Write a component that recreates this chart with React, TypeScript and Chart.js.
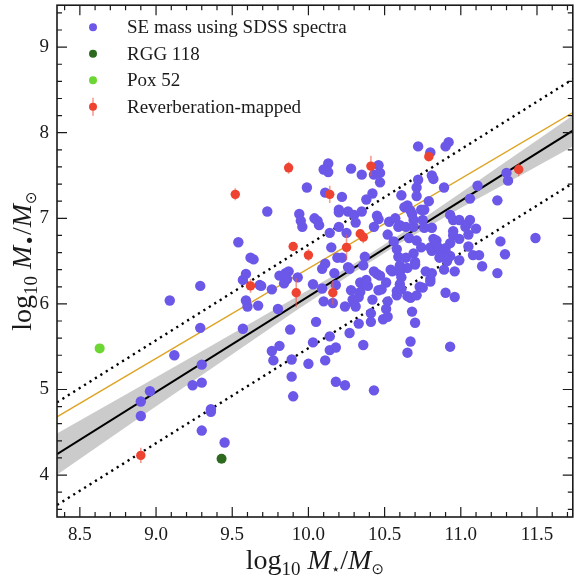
import React, { useEffect, useRef } from 'react';
import { Chart, registerables } from 'chart.js';

Chart.register(...registerables);

// ---------- data ----------
const seMassX = [
  9.09, 9.29, 9.12, 9.29, 9.30, 9.24, 9.30, 8.96, 8.90, 8.90, 9.36, 9.36, 9.30, 9.45,
  9.57, 9.59, 9.60, 9.67, 9.57, 9.59, 9.62, 9.64, 9.68, 9.69, 9.76, 9.81, 9.85, 9.87,
  9.86, 9.84, 9.93, 9.80, 9.88, 9.81, 9.76, 9.77, 9.89, 9.89, 9.90, 10.00, 9.54, 9.73,
  10.03, 10.09, 10.11, 10.09, 10.17, 10.10, 10.16, 10.05, 10.03, 10.14, 10.14, 10.18,
  10.11, 10.18, 10.24, 10.43, 10.27, 10.33, 10.36, 10.24, 10.29, 10.30, 10.31, 10.28,
  10.34, 10.36, 10.39, 10.38, 10.34, 10.33, 10.42, 10.43, 10.45, 10.47, 10.51, 10.46,
  10.48, 10.54, 10.55, 10.52, 10.51, 10.49, 10.52, 10.41, 10.41, 10.68, 10.70, 10.67,
  10.65, 10.93, 10.59, 10.64, 10.69, 10.70, 10.70, 10.65, 10.60, 10.61, 10.60, 10.58,
  10.58, 10.61, 10.65, 10.67, 10.71, 10.73, 10.75, 10.77, 10.80, 10.80, 10.81, 10.89,
  10.96, 10.81, 10.86, 10.91, 10.93, 10.99, 10.91, 11.08, 11.12, 11.14, 11.24, 11.29,
  10.90, 10.96, 10.37, 10.26, 10.27, 10.36, 10.19, 10.22, 10.72, 10.80, 10.92, 10.90,
  10.13, 10.10, 10.13, 10.28, 10.35, 10.43, 10.46, 10.47, 10.47, 9.99, 10.11, 10.22,
  10.38, 10.42, 9.94, 9.95, 9.96, 10.04, 10.06, 10.07, 10.14, 10.20, 10.20, 10.26,
  10.20, 10.25, 10.30, 10.31, 10.35, 10.45, 10.46, 10.43, 10.53, 10.57, 10.61, 10.65,
  10.71, 10.71, 10.72, 10.81, 10.82, 10.89, 10.79, 10.74, 10.76, 10.63, 10.67, 10.68,
  10.59, 10.60, 10.64, 10.69, 10.69, 10.75, 10.76, 10.81, 10.52, 10.66, 10.71, 10.74,
  10.80, 10.82, 10.84, 10.84, 10.85, 10.90, 10.89, 10.86, 10.58, 10.56, 10.93, 10.95,
  10.99, 11.06, 11.04, 11.03, 11.10, 10.95, 10.95, 10.99, 11.05, 11.06, 11.11, 11.24,
  11.30, 11.31, 11.49, 11.26, 10.93, 11.05, 10.60, 10.15, 10.18,
];
const seMassY = [
  6.04, 6.21, 5.40, 5.72, 5.29, 5.05, 5.08, 4.98, 4.86, 4.69, 4.77, 4.74, 4.52, 4.38,
  5.71, 6.04, 5.97, 5.98, 6.28, 6.35, 6.54, 6.52, 6.22, 6.21, 6.17, 6.33, 6.36, 6.38,
  6.29, 6.24, 6.31, 5.94, 5.70, 5.51, 5.45, 5.34, 5.35, 5.15, 4.92, 5.30, 6.72, 7.08,
  6.23, 6.18, 6.47, 6.41, 6.36, 6.03, 6.01, 5.79, 5.55, 5.62, 5.46, 5.49,
  5.34, 5.09, 5.05, 4.99, 5.66, 5.77, 5.52, 5.97, 6.05, 6.01, 5.97, 6.16,
  6.25, 6.23, 6.21, 6.28, 6.14, 6.08, 6.05, 6.38, 6.35, 6.33, 6.25, 6.16,
  6.17, 6.40, 6.38, 6.03, 5.94, 5.82, 5.85, 5.89, 5.79, 5.91, 5.78, 5.56,
  5.43, 5.50, 6.55, 6.54, 6.59, 6.49, 6.46, 6.42, 6.37, 6.31, 6.23, 6.15,
  6.10, 6.17, 6.09, 6.07, 6.10, 6.20, 6.19, 6.38, 6.29, 6.26, 6.36, 6.40,
  6.38, 6.62, 6.62, 6.58, 6.56, 6.51, 6.50, 6.57, 6.57, 6.44, 6.36, 6.58,
  6.13, 6.08, 6.55, 6.43, 6.41, 6.45, 6.54, 6.54, 7.84, 7.77, 7.89, 7.84,
  7.64, 7.57, 7.54, 7.58, 7.51, 7.51, 7.62, 7.53, 7.42, 7.36, 7.30, 7.25,
  7.22, 7.29, 7.05, 6.97, 6.90, 7.00, 6.97, 6.92, 6.83, 7.10, 7.07, 7.08,
  6.90, 6.83, 7.04, 6.95, 7.08, 7.03, 6.99, 6.90, 6.96, 7.00, 7.27, 7.15,
  7.26, 7.36, 7.45, 7.50, 7.46, 7.36, 7.20, 7.10, 7.10, 7.13, 7.09, 7.05,
  6.90, 6.92, 6.90, 6.90, 6.98, 6.98, 6.89, 6.89, 6.81, 6.77, 6.74, 6.66,
  6.66, 6.76, 6.74, 6.69, 6.66, 6.65, 6.55, 6.54, 6.64, 6.73, 7.04, 6.98,
  6.98, 6.98, 6.93, 6.90, 6.88, 6.85, 6.80, 6.76, 6.81, 7.23, 7.38, 7.21,
  7.53, 7.44, 6.77, 6.73, 6.71, 6.67, 6.45, 6.66, 6.22,
];

const rggX = [9.43];
const rggY = [4.19];

const poxX = [8.63];
const poxY = [5.48];

const rmX = [8.90, 9.52, 9.87, 9.62, 9.90, 10.00, 9.92, 10.16, 10.25, 10.34, 10.36, 10.41, 10.14, 10.79, 11.38];
const rmY = [4.23, 7.28, 7.59, 6.21, 6.67, 6.57, 6.13, 6.13, 6.66, 6.82, 6.78, 7.61, 7.28, 7.72, 7.57];
const rmErr = [0.09, 0.07, 0.07, 0.08, 0.05, 0.07, 0.17, 0.14, 0.15, 0.05, 0.07, 0.12, 0.10, 0.05, 0.08];

const lineX = [8.35, 11.735];
const fitY = [4.245, 8.025];
const upperScatterY = [4.85, 8.625];
const lowerScatterY = [3.65, 7.41];
const refRelationY = [4.68, 8.235];

const bandX = [8.35, 8.9, 9.4, 9.9, 10.3, 10.6, 11.0, 11.4, 11.735];
const bandUpperY = [4.485, 5.04, 5.55, 6.06, 6.47, 6.81, 7.30, 7.79, 8.20];
const bandLowerY = [4.005, 4.68, 5.29, 5.90, 6.37, 6.71, 7.12, 7.51, 7.84];

const xMajorTicks = [8.5, 9.0, 9.5, 10.0, 10.5, 11.0, 11.5];
const xTickLabels = ['8.5', '9.0', '9.5', '10.0', '10.5', '11.0', '11.5'];
const yMajorTicks = [4, 5, 6, 7, 8, 9];
const yTickLabels = ['4', '5', '6', '7', '8', '9'];

const legendLabels = ['SE mass using SDSS spectra', 'RGG 118', 'Pox 52', 'Reverberation-mapped'];

// ---------- styles ----------
const PURPLE = '#6b57e8';
const DKGREEN = '#2d6a1f';
const LTGREEN = '#6cd632';
const RED = '#ee4330';
const ERRCOL = 'rgba(240,90,75,0.6)';
const ORANGE = '#dea424';
const SERIF = '"Liberation Serif", "Times New Roman", serif';
const TXT = '#1a1a1a';

const pts = (xs: number[], ys: number[]) => xs.map((x, i) => ({ x, y: ys[i] }));
const findIdx = (arr: number[], v: number) => arr.findIndex((m) => Math.abs(m - v) < 1e-6);

type Part = { t: string; font: string; dy: number };

function drawParts(ctx: CanvasRenderingContext2D, parts: Part[], cx: number, baseY: number) {
  let w = 0;
  parts.forEach((p) => {
    ctx.font = p.font;
    w += ctx.measureText(p.t).width;
  });
  let x = cx - w / 2;
  ctx.textAlign = 'left';
  ctx.textBaseline = 'alphabetic';
  parts.forEach((p) => {
    ctx.font = p.font;
    ctx.fillText(p.t, x, baseY + p.dy);
    x += ctx.measureText(p.t).width;
  });
}

const MAIN = `28px ${SERIF}`;
const ITAL = `italic 28px ${SERIF}`;
const SUB = `19px ${SERIF}`;
const SYM = `15px "DejaVu Sans"`;

const xTitleParts: Part[] = [
  { t: 'log', font: MAIN, dy: 0 },
  { t: '10', font: SUB, dy: 6 },
  { t: ' ', font: MAIN, dy: 0 },
  { t: 'M', font: ITAL, dy: 0 },
  { t: '⋆', font: SYM, dy: 5 },
  { t: '/', font: MAIN, dy: 0 },
  { t: 'M', font: ITAL, dy: 0 },
  { t: '⊙', font: SYM, dy: 5 },
];
const yTitleParts: Part[] = [
  { t: 'log', font: MAIN, dy: 0 },
  { t: '10', font: SUB, dy: 6 },
  { t: ' ', font: MAIN, dy: 0 },
  { t: 'M', font: ITAL, dy: 0 },
  { t: '•', font: `18px "DejaVu Sans"`, dy: 5 },
  { t: '/', font: MAIN, dy: 0 },
  { t: 'M', font: ITAL, dy: 0 },
  { t: '⊙', font: SYM, dy: 5 },
];

const errorBarPlugin = {
  id: 'errorBars',
  beforeDatasetDraw(chart: any, args: any) {
    if (args.index !== 3) return;
    const { ctx } = chart;
    const xs = chart.scales.x;
    const ys = chart.scales.y;
    ctx.save();
    ctx.strokeStyle = ERRCOL;
    ctx.lineWidth = 1.6;
    ctx.beginPath();
    rmX.forEach((x, i) => {
      const px = xs.getPixelForValue(x);
      ctx.moveTo(px, ys.getPixelForValue(rmY[i] - rmErr[i]));
      ctx.lineTo(px, ys.getPixelForValue(rmY[i] + rmErr[i]));
    });
    ctx.stroke();
    ctx.restore();
  },
};

const framePlugin = {
  id: 'frameTicks',
  afterDraw(chart: any) {
    const { ctx, chartArea: a } = chart;
    const xs = chart.scales.x;
    const ys = chart.scales.y;
    ctx.save();
    ctx.strokeStyle = TXT;
    ctx.lineWidth = 1.2;
    ctx.beginPath();
    xs.ticks.forEach((t: any) => {
      const p = xs.getPixelForValue(t.value);
      if (p < a.left + 0.5 || p > a.right - 0.5) return;
      const len = t.label ? 10 : 5;
      ctx.moveTo(p, a.bottom);
      ctx.lineTo(p, a.bottom - len);
      ctx.moveTo(p, a.top);
      ctx.lineTo(p, a.top + len);
    });
    ys.ticks.forEach((t: any) => {
      const p = ys.getPixelForValue(t.value);
      if (p < a.top + 0.5 || p > a.bottom - 0.5) return;
      const len = t.label ? 10 : 5;
      ctx.moveTo(a.left, p);
      ctx.lineTo(a.left + len, p);
      ctx.moveTo(a.right, p);
      ctx.lineTo(a.right - len, p);
    });
    ctx.stroke();
    ctx.lineWidth = 1.6;
    ctx.strokeRect(a.left, a.top, a.right - a.left, a.bottom - a.top);

    // legend
    const colors = [PURPLE, DKGREEN, LTGREEN, RED];
    ctx.font = `19px ${SERIF}`;
    ctx.textAlign = 'left';
    ctx.textBaseline = 'middle';
    legendLabels.forEach((lab, i) => {
      const my = a.top + 22 + i * 26.5;
      const mx = a.left + 36;
      if (i === 3) {
        ctx.strokeStyle = ERRCOL;
        ctx.lineWidth = 1.6;
        ctx.beginPath();
        ctx.moveTo(mx, my - 9);
        ctx.lineTo(mx, my + 9);
        ctx.stroke();
      }
      ctx.fillStyle = colors[i];
      ctx.beginPath();
      ctx.arc(mx, my, 4, 0, Math.PI * 2);
      ctx.fill();
      ctx.fillStyle = TXT;
      ctx.fillText(lab, a.left + 70, my + 1);
    });

    // axis titles
    ctx.fillStyle = TXT;
    drawParts(ctx, xTitleParts, (a.left + a.right) / 2, 569);
    ctx.save();
    ctx.translate(31, (a.top + a.bottom) / 2);
    ctx.rotate(-Math.PI / 2);
    drawParts(ctx, yTitleParts, 0, 0);
    ctx.restore();
    ctx.restore();
  },
};

export default function App() {
  const ref = useRef<HTMLCanvasElement | null>(null);

  useEffect(() => {
    document.body.style.margin = '0';
    if (!ref.current) return;
    const chart = new Chart(ref.current, {
      type: 'scatter',
      data: {
        datasets: [
          { label: legendLabels[0], data: pts(seMassX, seMassY), backgroundColor: PURPLE, borderColor: PURPLE, pointRadius: 5.2, pointBorderWidth: 0, order: 2 },
          { label: legendLabels[1], data: pts(rggX, rggY), backgroundColor: DKGREEN, borderColor: DKGREEN, pointRadius: 5, pointBorderWidth: 0, order: 1 },
          { label: legendLabels[2], data: pts(poxX, poxY), backgroundColor: LTGREEN, borderColor: LTGREEN, pointRadius: 5, pointBorderWidth: 0, order: 1 },
          { label: legendLabels[3], data: pts(rmX, rmY), backgroundColor: RED, borderColor: RED, pointRadius: 4.7, pointBorderWidth: 0, order: 0 },
          { type: 'line', label: 'fit', data: pts(lineX, fitY), borderColor: '#000', borderWidth: 2, pointRadius: 0, fill: false, order: 3 },
          { type: 'line', label: 'upper', data: pts(lineX, upperScatterY), borderColor: '#000', borderWidth: 2.4, borderDash: [2.2, 4.2], pointRadius: 0, fill: false, order: 3 },
          { type: 'line', label: 'lower', data: pts(lineX, lowerScatterY), borderColor: '#000', borderWidth: 2.4, borderDash: [2.2, 4.2], pointRadius: 0, fill: false, order: 3 },
          { type: 'line', label: 'ref', data: pts(lineX, refRelationY), borderColor: ORANGE, borderWidth: 1.3, pointRadius: 0, fill: false, order: 3 },
          { type: 'line', label: 'bandUp', data: pts(bandX, bandUpperY), borderWidth: 0, borderColor: 'rgba(0,0,0,0)', pointRadius: 0, fill: '+1', backgroundColor: 'rgba(200,200,200,0.95)', order: 4 },
          { type: 'line', label: 'bandLo', data: pts(bandX, bandLowerY), borderWidth: 0, borderColor: 'rgba(0,0,0,0)', pointRadius: 0, fill: false, order: 4 },
        ] as any,
      },
      options: {
        animation: false,
        responsive: false,
        events: [],
        layout: { padding: { top: 4, right: 1, left: 0, bottom: 0 } },
        plugins: { legend: { display: false }, tooltip: { enabled: false } },
        scales: {
          x: {
            type: 'linear',
            min: 8.35,
            max: 11.735,
            afterFit: (s: any) => {
              s.height = 63;
              s.paddingLeft = 0;
              s.paddingRight = 0;
            },
            grid: { display: false, drawTicks: false },
            border: { display: false },
            ticks: {
              stepSize: 0.1,
              autoSkip: false,
              includeBounds: false,
              maxRotation: 0,
              padding: 7,
              color: TXT,
              font: { family: SERIF, size: 19 },
              callback: (v: any) => {
                const i = findIdx(xMajorTicks, Number(v));
                return i >= 0 ? xTickLabels[i] : '';
              },
            },
          },
          y: {
            type: 'linear',
            min: 3.51,
            max: 9.49,
            afterFit: (s: any) => {
              s.width = 57;
              s.paddingTop = 0;
              s.paddingBottom = 0;
            },
            grid: { display: false, drawTicks: false },
            border: { display: false },
            ticks: {
              stepSize: 0.2,
              autoSkip: false,
              includeBounds: false,
              padding: 8,
              color: TXT,
              font: { family: SERIF, size: 19 },
              callback: (v: any) => {
                const i = findIdx(yMajorTicks, Number(v));
                return i >= 0 ? yTickLabels[i] : '';
              },
            },
          },
        },
      } as any,
      plugins: [errorBarPlugin, framePlugin],
    });
    return () => chart.destroy();
  }, []);

  return (
    <div style={{ width: 578, height: 580 }}>
      <canvas ref={ref} width={578} height={580} style={{ display: 'block' }} />
    </div>
  );
}
